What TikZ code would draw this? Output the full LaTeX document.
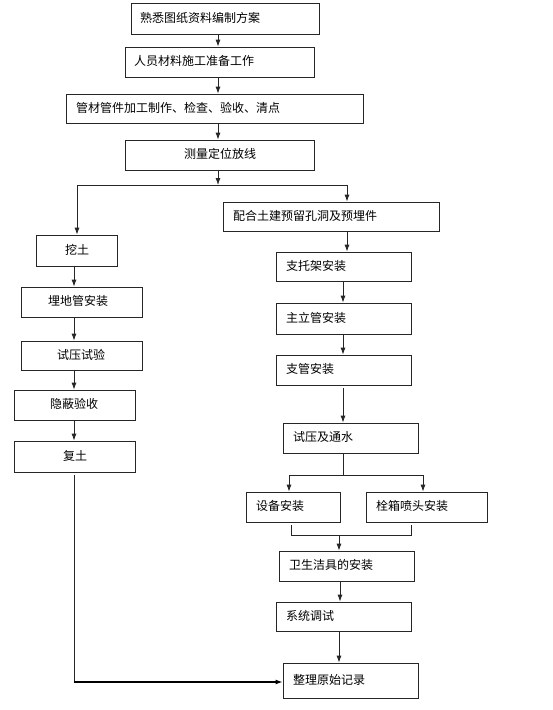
\documentclass[tikz,border=0pt]{standalone}
\usepackage{fontspec}
\setmainfont{Noto Sans CJK SC}
\usetikzlibrary{arrows.meta}
\tikzset{
  bx/.style={draw=black!85, line width=0.8pt, rectangle, inner sep=0pt},
  tx/.style={anchor=west, inner sep=0pt, font=\fontsize{12}{12}\selectfont},
  ln/.style={draw=black!85, line width=0.8pt},
  arr/.style={ln, -{Latex[length=7pt,width=5pt]}},
  thk/.style={draw=black, line width=1.8pt, -{Latex[length=7pt,width=5pt]}}
}
\newcommand{\mybox}[7]{%
  \node[bx, minimum width={(#4-#2)*1pt}, minimum height={(#5-#3)*1pt}] (#1) at ({(#2+#4)/2},{(#3+#5)/2}) {};
  \node[tx] (#1t) at (#6,{(#3+#5)/2-1}) {#7};
}
\begin{document}
\begin{tikzpicture}[x=1pt,y=-1pt]
\useasboundingbox[fill=white] (0,0) rectangle (553,710);
% main column
\mybox{b1}{131}{3}{319}{34}{140}{熟悉图纸资料编制方案}
\mybox{b2}{125}{47}{314}{77}{134}{人员材料施工准备工作}
\mybox{b3}{66}{94}{363}{123}{76}{管材管件加工制作、检查、验收、清点}
\mybox{b4}{125}{140}{314}{170}{184}{测量定位放线}
% left column
\mybox{l1}{36}{235}{117}{266}{65}{挖土}
\mybox{l2}{21}{287}{142}{317}{48}{埋地管安装}
\mybox{l3}{21}{341}{142}{370}{57}{试压试验}
\mybox{l4}{14}{390}{135}{420}{50}{隐蔽验收}
\mybox{l5}{14}{441}{135}{472}{63}{复土}
% right column
\mybox{r1}{223}{202}{439}{231}{233}{配合土建预留孔洞及预埋件}
\mybox{r2}{276}{252}{411}{281}{286}{支托架安装}
\mybox{r3}{276}{303}{411}{334}{286}{主立管安装}
\mybox{r4}{276}{355}{411}{385}{286}{支管安装}
\mybox{r5}{283}{423}{418}{453}{293}{试压及通水}
\mybox{r6a}{246}{492}{340}{522}{256}{设备安装}
\mybox{r6b}{366}{492}{487}{522}{376}{栓箱喷头安装}
\mybox{r7}{279}{551}{414}{581}{289}{卫生洁具的安装}
\mybox{r8}{276}{602}{411}{631}{286}{系统调试}
\mybox{r9}{283}{663}{418}{698}{293}{整理原始记录}
% coordinates
\coordinate (xm) at (218,0);
\coordinate (xl) at (74,0);
\coordinate (xr) at (343,0);
\coordinate (j1) at (218,185);
\coordinate (j1l) at (77,185);
\coordinate (j1r) at (347,185);
\coordinate (j2) at (343,475);
\coordinate (j2l) at (289,475);
\coordinate (j2r) at (423,475);
\coordinate (j3l) at (291,535);
\coordinate (j3r) at (411,535);
\coordinate (j3) at (339,535);
\coordinate (lc) at (74,682);
% main arrows
\draw[arr] (b1.south -| xm) -- (b2.north -| xm);
\draw[arr] (b2.south -| xm) -- (b3.north -| xm);
\draw[arr] (b3.south -| xm) -- (b4.north -| xm);
\draw[arr] (b4.south -| xm) -- (j1);
\draw[ln] (j1l) -- (j1r);
\draw[arr] (j1l) -- (l1.north -| j1l);
\draw[arr] (j1r) -- (r1.north -| j1r);
% left column
\draw[arr] (l1.south -| xl) -- (l2.north -| xl);
\draw[arr] (l2.south -| xl) -- (l3.north -| xl);
\draw[arr] (l3.south -| xl) -- (l4.north -| xl);
\draw[arr] (l4.south -| xl) -- (l5.north -| xl);
\draw[ln, shorten <=3pt] (l5.south -| xl) -- ([yshift=-0.9pt]lc);
\draw[thk] ([xshift=-0.4pt]lc) -- (r9.west |- lc);
% right column
\draw[arr] (r1.south -| j1r) -- (r2.north -| j1r);
\draw[arr] (r2.south -| xr) -- (r3.north -| xr);
\draw[arr] (r3.south -| xr) -- (r4.north -| xr);
\draw[arr, shorten <=3pt] (r4.south -| xr) -- (r5.north -| xr);
\draw[ln] (r5.south -| xr) -- (j2);
\draw[ln] (j2l) -- (j2r);
\draw[arr] (j2l) -- (r6a.north -| j2l);
\draw[arr] (j2r) -- (r6b.north -| j2r);
\draw[ln, shorten <=3pt] (r6a.south -| j3l) -- (j3l) -- (j3r) -- ([yshift=-3pt]r6b.south -| j3r);
\draw[arr] (j3) -- (r7.north -| j3);
\draw[arr] (r7.south -| 340,0) -- (r8.north -| 340,0);
\draw[arr] (r8.south -| j3) -- (r9.north -| j3);
\end{tikzpicture}
\end{document}
